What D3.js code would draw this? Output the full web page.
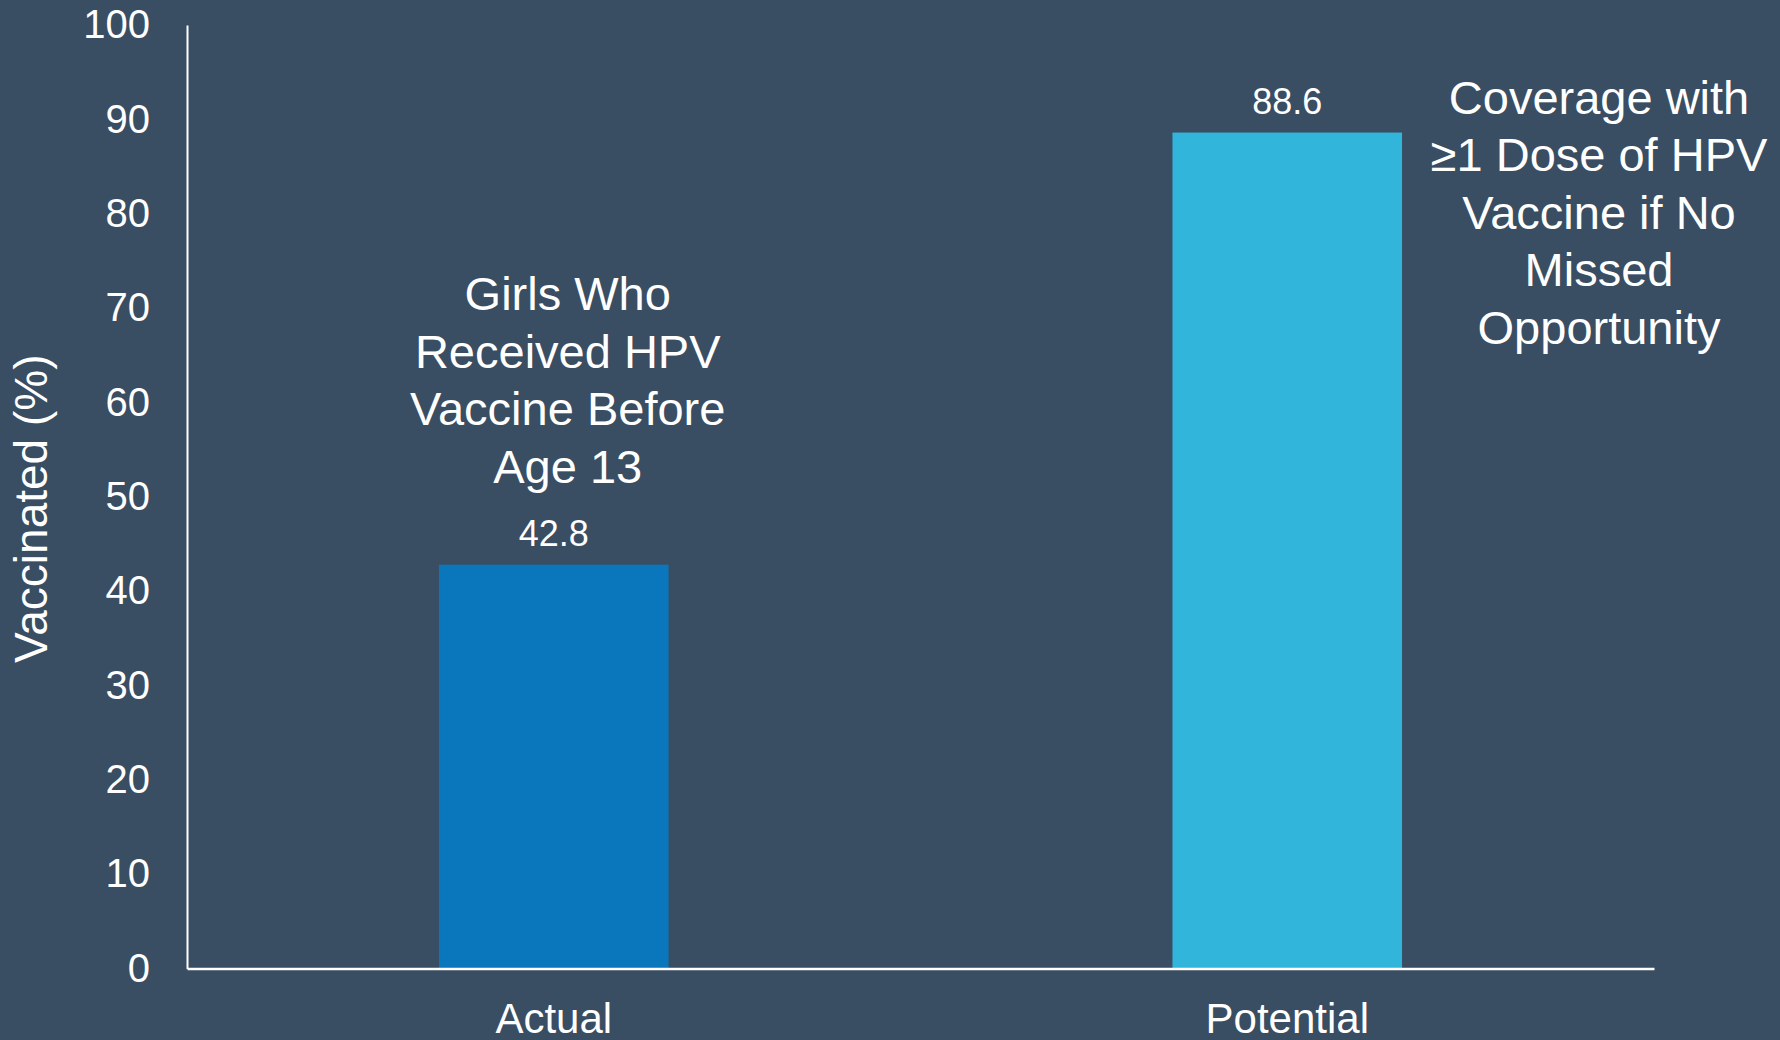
<!DOCTYPE html>
<html>
<head>
<meta charset="utf-8">
<script src="https://cdn.jsdelivr.net/npm/d3@7"></script>
<style>
  html, body { margin: 0; padding: 0; background: #394d63; }
  svg { display: block; font-family: "Liberation Sans", Arial, sans-serif; }
</style>
</head>
<body>
<script>
'use strict';

// data
var categories = ["Actual", "Potential"];
var values = [42.8, 88.6];
var yTicks = [0, 10, 20, 30, 40, 50, 60, 70, 80, 90, 100];
var notes = [
    ["Girls Who", "Received HPV", "Vaccine Before", "Age 13"],
    ["Coverage with", "\u22651 Dose of HPV", "Vaccine if No", "Missed", "Opportunity"]
];
var barColors = ["#0a77bc", "#31b5da"];

var W = 1780, H = 1040;
var margin = {top: 25, right: 126, bottom: 71.5, left: 187},
    width = W - margin.left - margin.right,
    height = H - margin.top - margin.bottom;

var svg = d3.select("body").append("svg")
    .attr("width", W)
    .attr("height", H);

svg.append("rect").attr("width", W).attr("height", H).attr("fill", "#394d63");

var g = svg.append("g")
    .attr("transform", "translate(" + margin.left + "," + margin.top + ")");

var x = d3.scaleBand()
    .domain(categories)
    .range([0, width])
    .paddingInner(0.687)
    .paddingOuter(0.3435);

var y = d3.scaleLinear()
    .domain([0, 100])
    .range([height, 0]);

// bars
g.selectAll(".bar")
    .data(values)
    .enter().append("rect")
    .attr("class", "bar")
    .attr("x", function (d, i) { return x(categories[i]); })
    .attr("y", function (d) { return y(d); })
    .attr("width", x.bandwidth())
    .attr("height", function (d) { return height - y(d); })
    .attr("fill", function (d, i) { return barColors[i]; });

// value labels
g.selectAll(".val")
    .data(values)
    .enter().append("text")
    .attr("class", "val")
    .attr("x", function (d, i) { return x(categories[i]) + x.bandwidth() / 2; })
    .attr("y", function (d) { return y(d) - 19; })
    .attr("text-anchor", "middle")
    .attr("fill", "#fff")
    .style("font-size", "36px")
    .text(function (d) { return d.toFixed(1); });

// y axis
var yAxis = g.append("g")
    .call(d3.axisLeft(y).tickValues(yTicks).tickSize(0).tickPadding(37));
yAxis.select(".domain").attr("stroke", "#fff").attr("stroke-width", 2);
yAxis.selectAll("text").attr("fill", "#fff").style("font-size", "40px")
    .style("font-family", "'Liberation Sans', Arial, sans-serif");

// x axis
var xAxis = g.append("g")
    .attr("transform", "translate(0," + height + ")")
    .call(d3.axisBottom(x).tickSize(0).tickPadding(35));
xAxis.select(".domain").attr("stroke", "#fff").attr("stroke-width", 2.5);
xAxis.selectAll("text").attr("fill", "#fff").style("font-size", "42px")
    .style("font-family", "'Liberation Sans', Arial, sans-serif");

// y title
svg.append("text")
    .attr("transform", "translate(47," + (margin.top + y(50) + 12) + ") rotate(-90)")
    .attr("text-anchor", "middle")
    .attr("fill", "#fff")
    .style("font-size", "46px")
    .text("Vaccinated (%)");

// annotations
var lineH = 57.5;
var n0 = g.append("text")
    .attr("text-anchor", "middle")
    .attr("fill", "#fff")
    .style("font-size", "47px");
notes[0].forEach(function (t, i) {
    n0.append("tspan")
        .attr("x", x(categories[0]) + x.bandwidth() / 2 + 14)
        .attr("y", y(values[0]) - 82 - (notes[0].length - 1 - i) * lineH)
        .text(t);
});

var n1 = g.append("text")
    .attr("text-anchor", "middle")
    .attr("fill", "#fff")
    .style("font-size", "47px");
notes[1].forEach(function (t, i) {
    n1.append("tspan")
        .attr("x", x(categories[1]) + x.bandwidth() + 197)
        .attr("y", y(values[1]) - 19 + i * lineH)
        .text(t);
});
</script>
</body>
</html>
